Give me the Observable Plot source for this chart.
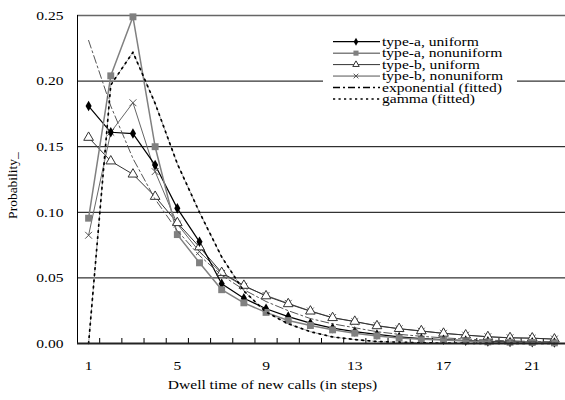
<!DOCTYPE html>
<html>
<head>
<meta charset="utf-8">
<script src="https://cdn.jsdelivr.net/npm/d3@7"></script>
<script src="https://cdn.jsdelivr.net/npm/@observablehq/plot@0.6"></script>
<style>
  html, body { margin: 0; padding: 0; background: #fff; }
  #wrap { position: relative; width: 565px; height: 400px; overflow: hidden; }
  #legend { position: absolute; left: 323px; top: 31px; }
</style>
</head>
<body>
<div id="wrap"></div>
<script>
// ---- data ----
const steps = [1,2,3,4,5,6,7,8,9,10,11,12,13,14,15,16,17,18,19,20,21,22];
const typeAUniform    = [0.181,0.161,0.160,0.136,0.103,0.0775,0.0455,0.0345,0.0265,0.0205,0.0155,0.0117,0.0091,0.0069,0.0050,0.0037,0.0029,0.0022,0.0016,0.0012,0.0010,0.0008];
const typeANonuniform = [0.0955,0.204,0.249,0.150,0.083,0.0615,0.041,0.031,0.0237,0.0175,0.0137,0.0104,0.0079,0.0058,0.0042,0.0033,0.0026,0.0020,0.0012,0.0010,0.0008,0.0005];
const typeBUniform    = [0.157,0.139,0.129,0.112,0.092,0.0735,0.054,0.0442,0.0362,0.0302,0.0246,0.0196,0.0168,0.0134,0.0113,0.0096,0.0077,0.0064,0.0051,0.0043,0.0041,0.0033];
const typeBNonuniform = [0.0825,0.161,0.1835,0.131,0.091,0.070,0.0535,0.0436,0.0366,0.0306,0.0248,0.0198,0.0166,0.0137,0.0112,0.0094,0.0078,0.0064,0.0052,0.0044,0.0040,0.0034];
const exponentialFit  = [0.231,0.181,0.141,0.110,0.086,0.067,0.052,0.041,0.032,0.025,0.019,0.015,0.012,0.009,0.007,0.0055,0.0043,0.0034,0.0026,0.0020,0.0016,0.0012];
const gammaFit        = [0.0,0.197,0.222,0.183,0.137,0.100,0.066,0.040,0.024,0.015,0.009,0.005,0.003,0.0015,0.0010,0.0005,0.0003,0.0002,0.0001,0.0001,0.0,0.0];

const seriesNames = ["type-a, uniform","type-a, nonuniform","type-b, uniform","type-b, nonuniform","exponential (fitted)","gamma (fitted)"];
const yTicks = [0, 0.05, 0.10, 0.15, 0.20, 0.25];
const xTickLabels = [1, 5, 9, 13, 17, 21];
const xTickMarks = [1.5,2.5,3.5,4.5,5.5,6.5,7.5,8.5,9.5,10.5,11.5,12.5,13.5,14.5,15.5,16.5,17.5,18.5,19.5,20.5,21.5];
const xTitle = "Dwell time of new calls (in steps)";
const yTitle = "Probability_";

const toRows = (vals) => steps.map((s, i) => ({step: s, value: vals[i]}));
const A_u = toRows(typeAUniform), A_n = toRows(typeANonuniform);
const B_u = toRows(typeBUniform), B_n = toRows(typeBNonuniform);
const EXP = toRows(exponentialFit), GAM = toRows(gammaFit);

const FONT = "'Liberation Serif', 'Times New Roman', serif";
const XS = 1.15; // horizontal glyph stretch of the original

const chart = Plot.plot({
  width: 565, height: 400,
  marginLeft: 77, marginRight: 0, marginTop: 15, marginBottom: 57,
  style: {fontFamily: FONT, fontSize: "13.5px", color: "#000", background: "#fff", overflow: "visible"},
  x: {domain: [0.5, 22.5]},
  y: {domain: [0, 0.25]},
  marks: [
    Plot.ruleY(yTicks.slice(1, 5), {stroke: "#000", strokeWidth: 1}),
    Plot.ruleY(yTicks.slice(5), {stroke: "#666", strokeWidth: 1.5}),
    Plot.ruleX([0.5], {stroke: "#000", strokeWidth: 1}),
    Plot.axisY({ticks: yTicks, tickFormat: d3.format(".2f"), tickSize: 0, tickPadding: 14, label: null, fontSize: 13.5}),
    Plot.axisX({ticks: xTickLabels, tickSize: 0, tickPadding: 17, label: null, fontSize: 13.5}),
    Plot.axisX({ticks: xTickMarks, tickSize: -5, tickFormat: () => "", label: null, stroke: "#000"}),
    // series lines
    Plot.line(B_n, {x: "step", y: "value", stroke: "#666", strokeWidth: 1}),
    Plot.line(B_u, {x: "step", y: "value", stroke: "#333", strokeWidth: 1}),
    Plot.line(A_u, {x: "step", y: "value", stroke: "#000", strokeWidth: 1.2}),
    Plot.line(A_n, {x: "step", y: "value", stroke: "#808080", strokeWidth: 1.5}),
    Plot.dot(B_n, {x: "step", y: "value", symbol: "times", r: 3.2, stroke: "#555", strokeWidth: 1}),
    Plot.dot(B_u, {x: "step", y: "value", symbol: "triangle", r: 3.6, stroke: "#333", fill: "#fff", strokeWidth: 1}),
    Plot.dot(A_u, {x: "step", y: "value", symbol: "diamond", r: 3.2, fill: "#000", stroke: "none"}),
    Plot.dot(A_n, {x: "step", y: "value", symbol: "square", r: 3.9, fill: "#808080", stroke: "none"}),
    // fitted curves
    Plot.line(EXP, {x: "step", y: "value", stroke: "#555", strokeWidth: 1, strokeDasharray: "8,3,2,3"}),
    Plot.line(GAM, {x: "step", y: "value", stroke: "#999", strokeWidth: 1, strokeDasharray: "1.5,1.5"}),
    Plot.line(GAM, {x: "step", y: "value", stroke: "#000", strokeWidth: 1.7, strokeDasharray: "1.6,4.6"}),
    Plot.ruleY([0], {stroke: "#222", strokeWidth: 2}),
    // titles
    Plot.text([xTitle], {frameAnchor: "bottom", dx: -49, dy: 45, fontSize: 13.5, fill: "#000"}),
    Plot.text([yTitle], {frameAnchor: "left", textAnchor: "middle", rotate: -90, dx: -65, dy: 6, fontSize: 13.5, fill: "#000"})
  ]
});

// horizontally stretch glyphs like the original picture (pivot on each text's anchor)
chart.querySelectorAll("text").forEach(t => {
  const tr = t.getAttribute("transform") || "";
  if (tr.includes("rotate")) return;
  const xs = t.getAttribute("x");
  const px = xs !== null && /^-?[\d.]+$/.test(xs.trim()) ? +xs : 0;
  t.setAttribute("transform", `${tr} translate(${px},0) scale(${XS},1) translate(${-px},0)`);
});

document.getElementById("wrap").appendChild(chart);

// ---- legend ----
const lg = d3.select("#wrap").append("svg")
  .attr("id", "legend").attr("width", 194).attr("height", 77);
lg.append("rect").attr("width", 194).attr("height", 77).attr("fill", "#fff");
const legendStyles = [
  {stroke: "#000", w: 1.2, dash: null, sym: d3.symbolDiamond, size: 18, fill: "#000", sstroke: "none"},
  {stroke: "#808080", w: 1.5, dash: null, sym: d3.symbolSquare, size: 26, fill: "#808080", sstroke: "none"},
  {stroke: "#333", w: 1, dash: null, sym: d3.symbolTriangle, size: 18, fill: "#fff", sstroke: "#333"},
  {stroke: "#555", w: 1, dash: null, sym: d3.symbolTimes, size: 16, fill: "none", sstroke: "#555"},
  {stroke: "#000", w: 1.6, dash: "7,3,2,3", sym: null},
  {stroke: "#000", w: 1.6, dash: "2.2,3.3", sym: null}
];
seriesNames.forEach((name, i) => {
  const st = legendStyles[i];
  const cy = 10.7 + i * 11.45;
  const g = lg.append("g");
  g.append("line").attr("x1", 10).attr("x2", 57).attr("y1", cy).attr("y2", cy)
    .attr("stroke", st.stroke).attr("stroke-width", st.w)
    .attr("stroke-dasharray", st.dash);
  if (st.sym) {
    g.append("path").attr("d", d3.symbol(st.sym, st.size)())
      .attr("transform", `translate(33,${cy})`)
      .attr("fill", st.fill).attr("stroke", st.sstroke).attr("stroke-width", 1);
  }
  g.append("text").text(name)
    .attr("transform", `translate(59,${cy + 4.3}) scale(1.2,1)`)
    .attr("font-family", FONT).attr("font-size", "13px").attr("fill", "#000");
});
</script>
</body>
</html>
